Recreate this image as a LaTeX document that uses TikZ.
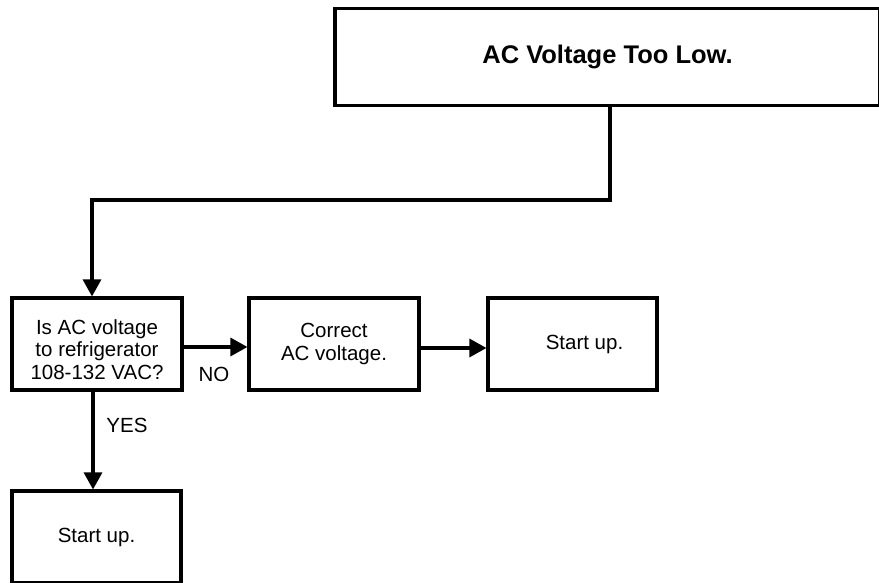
\documentclass[tikz,border=0pt]{standalone}
\usepackage{fontspec}
\setmainfont{Liberation Sans}
\usetikzlibrary{arrows.meta}
\begin{document}
\begin{tikzpicture}[x=1pt,y=-1pt,
  box/.style={draw=black,line width=3.1pt,rectangle,inner sep=0pt,align=center,
    font=\fontsize{20.5}{22.5}\selectfont},
  lbl/.style={inner sep=0pt,font=\fontsize{20.5}{22.5}\selectfont},
  arr/.style={line width=3.1pt,-{Triangle[length=17pt,width=18pt]}}]
\useasboundingbox (0,0) rectangle (879,583);
\clip (0,0) rectangle (879,583);
\fill[white] (0,0) rectangle (879,583);
\node[box,minimum width=545pt,minimum height=97pt,font=\fontsize{25.5}{28}\selectfont\bfseries] (t) at (607.5,57) {AC Voltage Too Low.};
\node[box,minimum width=170pt,minimum height=92pt] (b1) at (97,344) {\rule{0pt}{26pt}Is AC voltage\\to refrigerator\\108-132 VAC?};
\node[box,minimum width=170pt,minimum height=92pt] (b2) at (334,344) {Correct\\AC voltage.};
\node[box,minimum width=169pt,minimum height=92pt] (b3) at (572.5,344) {\hspace*{24pt}Start up.};
\node[box,minimum width=169pt,minimum height=92pt] (b4) at (96.5,537) {Start up.};
\coordinate (k) at (92,200);
\draw[arr] ([xshift=2.5pt]t.south) |- (k) -- (k |- b1.north);
\draw[arr] ([yshift=-3pt]b1.east) -- ([yshift=-3pt]b2.west);
\draw[arr] ([yshift=-4pt]b2.east) -- ([yshift=-4pt]b3.west);
\draw[arr] ([xshift=-4pt]b1.south) -- ([xshift=-3.5pt]b4.north);
\node[lbl] (no) at (214,374) {NO};
\node[lbl] (yes) at (127,425) {YES};
\end{tikzpicture}
\end{document}
